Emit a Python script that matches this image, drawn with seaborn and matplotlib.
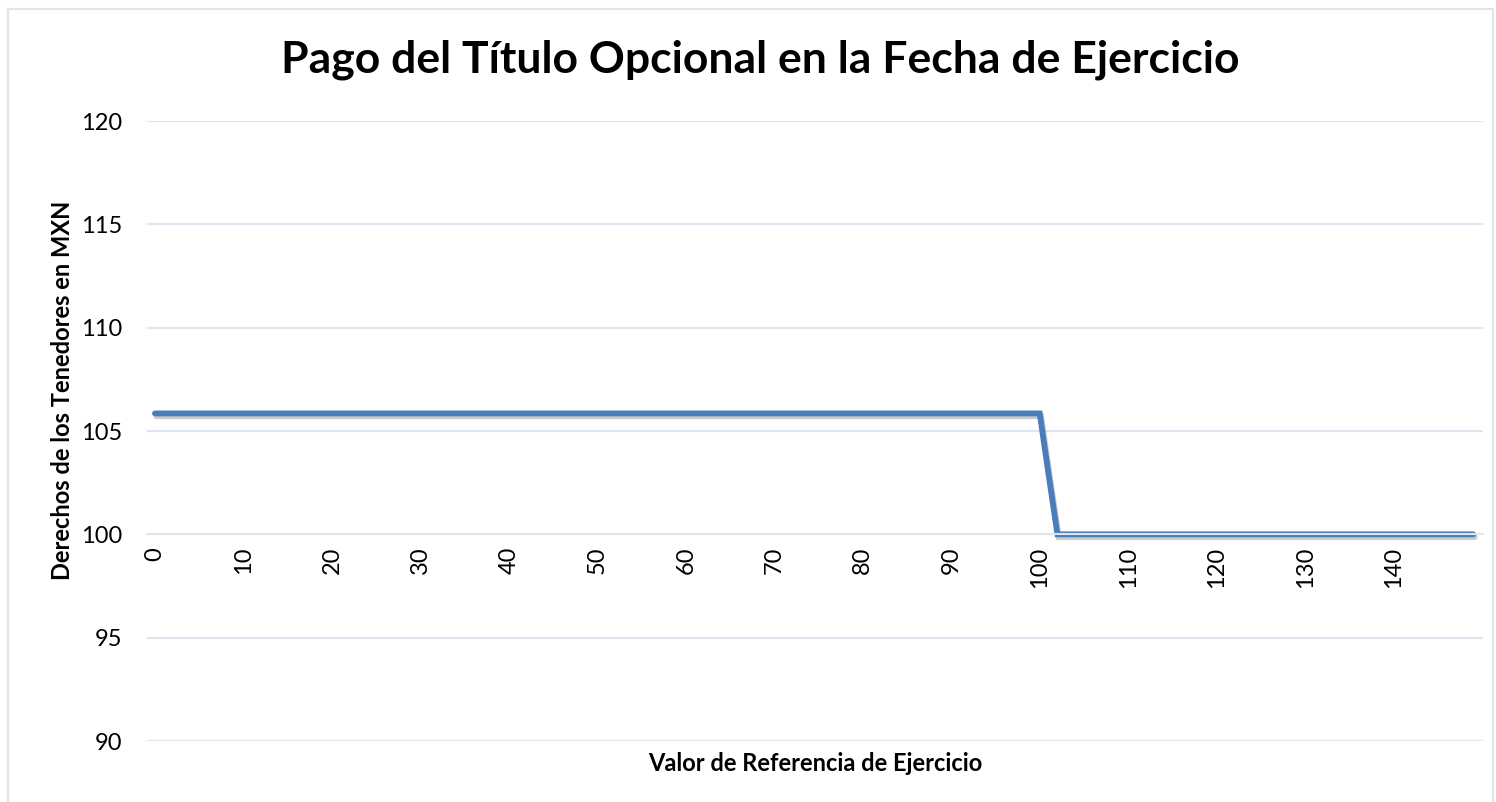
import matplotlib
matplotlib.use("Agg")
import matplotlib.pyplot as plt
import matplotlib.patheffects as pe
from matplotlib.patches import Rectangle
import pandas as pd
import seaborn as sns

# valor de referencia (categorias 0..149) y pago del titulo
referencia = list(range(150))
pago = [105.85] * 101 + [102.9] + [100.0] * 48
x_ticklabels = [str(v) for v in range(0, 150, 10)]
y_ticks = [90, 95, 100, 105, 110, 115, 120]

df = pd.DataFrame({"referencia": referencia, "pago": pago})

sns.set_theme(style="white")
plt.rcParams["font.family"] = ["Lato", "DejaVu Sans"]
plt.rcParams["text.color"] = "black"

grid_color = "#DCE6F2"
line_color = "#4A7EBB"

fig = plt.figure(figsize=(14.96, 8.02), dpi=100)
ax = fig.add_axes([147 / 1496, 1 - 741 / 802, (1483 - 147) / 1496, (741 - 121) / 802])

# marco exterior del grafico
fig.patches.append(Rectangle((8 / 1496, -0.01), (1493 - 8) / 1496, 1 - 9 / 802 + 0.01,
                             transform=fig.transFigure, fill=False,
                             edgecolor=grid_color, linewidth=1.5))

sns.lineplot(data=df, x="referencia", y="pago", ax=ax, color=line_color,
             linewidth=4.2, solid_capstyle="round", solid_joinstyle="miter",
             path_effects=[pe.SimpleLineShadow(offset=(1.0, -2.0), alpha=0.25, shadow_color="#333333"),
                           pe.Normal()])

x_lo, x_hi = -0.9, 150.1
ax.set_xlim(x_lo, x_hi)
ax.set_ylim(90, 120)

ax.set_yticks(y_ticks)
ax.tick_params(axis="y", length=0, labelsize=17, pad=18, labelcolor="black")
for y in y_ticks:
    if y != 100:
        ax.axhline(y, color=grid_color, linewidth=1.5, zorder=0)

for side in ["left", "right", "top"]:
    ax.spines[side].set_visible(False)
ax.spines["bottom"].set_position(("data", 100))
ax.spines["bottom"].set_color(grid_color)
ax.spines["bottom"].set_linewidth(1.5)

# marcas en los limites de categoria, etiquetas en el centro
ax.set_xticks([v + x_lo for v in range(0, 150, 10)] + [x_hi])
ax.set_xticklabels([])
ax.tick_params(axis="x", which="major", length=7, width=1.5, color=grid_color, direction="out")
ax.set_xticks(list(range(0, 150, 10)), minor=True)
ax.set_xticklabels(x_ticklabels, minor=True, rotation=90, fontsize=17)
ax.tick_params(axis="x", which="minor", length=0, pad=9, labelcolor="black")

ax.set_xlabel("Valor de Referencia de Ejercicio", fontsize=17, fontweight="bold", color="black")
ax.xaxis.set_label_coords(0.5, -0.018)
ax.set_ylabel("Derechos de los Tenedores en MXN", fontsize=17, fontweight="bold", color="black")
ax.yaxis.set_label_coords(-0.055, 0.565)

fig.text(760 / 1496, 1 - 60 / 802, "Pago del Título Opcional en la Fecha de Ejercicio",
         ha="center", va="center", fontsize=32, fontweight="bold", color="black")

fig.savefig("out.png", dpi=100, facecolor="white")
